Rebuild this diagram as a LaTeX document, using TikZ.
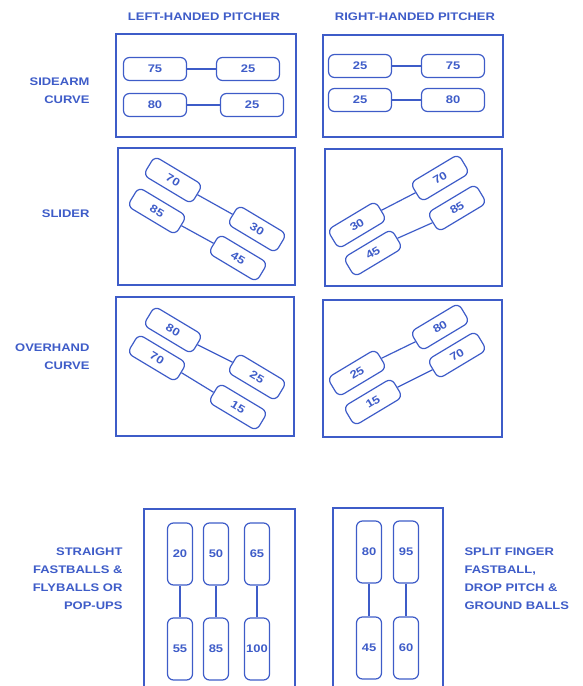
\documentclass[tikz,border=0pt]{standalone}
\usepackage{fontspec}
\setmainfont{Liberation Sans}[FakeStretch=1.18]
\definecolor{pitchblue}{RGB}{62, 92, 200}
\usetikzlibrary{positioning}

\begin{document}
\begin{tikzpicture}[x=1pt, y=-1pt,
  every node/.style={text=pitchblue, font=\fontsize{11}{18}\selectfont\bfseries},
  frame/.style={draw=pitchblue, line width=1.6pt},
  pill/.style={draw=pitchblue, line width=1.2pt, rounded corners=6pt, minimum width=63pt, minimum height=23pt, inner sep=0pt},
  dpill/.style={pill, minimum width=56pt, minimum height=22pt},
  vpill/.style={pill, minimum width=25pt, minimum height=62pt},
  link/.style={draw=pitchblue, line width=1.2pt},
  rowlabel/.style={align=right, anchor=east}]
  \clip (0,0) rectangle (582,686);

  % Column headings
  \node (lhp) at (204,17) {LEFT-HANDED PITCHER};
  \node (rhp) at (415,17) {RIGHT-HANDED PITCHER};

  % Row labels
  \node[rowlabel] (sidearm) at (93,91) {SIDEARM\\CURVE};
  \node[rowlabel] (slider) at (93,214) {SLIDER};
  \node[rowlabel] (overhand) at (93,357) {OVERHAND\\CURVE};
  \node[rowlabel] (straight) at (126,579) {STRAIGHT\\FASTBALLS \&\\FLYBALLS OR\\POP-UPS};
  \node[align=left, anchor=west] (split) at (461,579) {SPLIT FINGER\\FASTBALL,\\DROP PITCH \&\\GROUND BALLS};

  % Frames
  \draw[frame] (116,34) rectangle (296,137);
  \draw[frame] (323,35) rectangle (503,137);
  \draw[frame] (118,148) rectangle (295,285);
  \draw[frame] (325,149) rectangle (502,286);
  \draw[frame] (116,297) rectangle (294,436);
  \draw[frame] (323,300) rectangle (502,437);
  \draw[frame] (144,700) -- (144,509) -- (295,509) -- (295,700);
  \draw[frame] (333,700) -- (333,508) -- (443,508) -- (443,700);

  % Sidearm curve
  \node[pill] (a75) at (155,69) {75};
  \node[pill] (a25) at (248,69) {25};
  \node[pill] (a80) at (155,105) {80};
  \node[pill] (b25) at (252,105) {25};
  \draw[link] (a75) -- (a25);
  \draw[link] (a80) -- (b25);

  \node[pill] (c25) at (360,66) {25};
  \node[pill] (c75) at (453,66) {75};
  \node[pill] (d25) at (360,100) {25};
  \node[pill] (d80) at (453,100) {80};
  \draw[link] (c25) -- (c75);
  \draw[link] (d25) -- (d80);

  % Slider
  \node[dpill, rotate=-31] (s70) at (173,180) {70};
  \node[dpill, rotate=-31] (s85) at (157,211) {85};
  \node[dpill, rotate=-31] (s30) at (257,229) {30};
  \node[dpill, rotate=-31] (s45) at (238,258) {45};
  \draw[link] (s70.east) -- (s30.west);
  \draw[link] (s85.east) -- (s45.west);

  \node[dpill, rotate=31] (t70) at (440,178) {70};
  \node[dpill, rotate=31] (t85) at (457,208) {85};
  \node[dpill, rotate=31] (t30) at (357,225) {30};
  \node[dpill, rotate=31] (t45) at (373,253) {45};
  \draw[link] (t30.east) -- (t70.west);
  \draw[link] (t45.east) -- (t85.west);

  % Overhand curve
  \node[dpill, rotate=-31] (o80) at (173,330) {80};
  \node[dpill, rotate=-31] (o70) at (157,358) {70};
  \node[dpill, rotate=-31] (o25) at (257,377) {25};
  \node[dpill, rotate=-31] (o15) at (238,407) {15};
  \draw[link] (o80.east) -- (o25.west);
  \draw[link] (o70.east) -- (o15.west);

  \node[dpill, rotate=31] (p80) at (440,327) {80};
  \node[dpill, rotate=31] (p70) at (457,355) {70};
  \node[dpill, rotate=31] (p25) at (357,373) {25};
  \node[dpill, rotate=31] (p15) at (373,402) {15};
  \draw[link] (p25.east) -- (p80.west);
  \draw[link] (p15.east) -- (p70.west);

  % Straight fastballs
  \node[vpill] (v20) at (180,554) {20};
  \node[vpill] (v50) at (216,554) {50};
  \node[vpill] (v65) at (257,554) {65};
  \node[vpill] (v55) at (180,649) {55};
  \node[vpill] (v85) at (216,649) {85};
  \node[vpill] (v100) at (257,649) {100};
  \draw[link] (v20) -- (v55);
  \draw[link] (v50) -- (v85);
  \draw[link] (v65) -- (v100);

  % Split finger fastball
  \node[vpill] (w80) at (369,552) {80};
  \node[vpill] (w95) at (406,552) {95};
  \node[vpill] (w45) at (369,648) {45};
  \node[vpill] (w60) at (406,648) {60};
  \draw[link] (w80) -- (w45);
  \draw[link] (w95) -- (w60);
\end{tikzpicture}
\end{document}
